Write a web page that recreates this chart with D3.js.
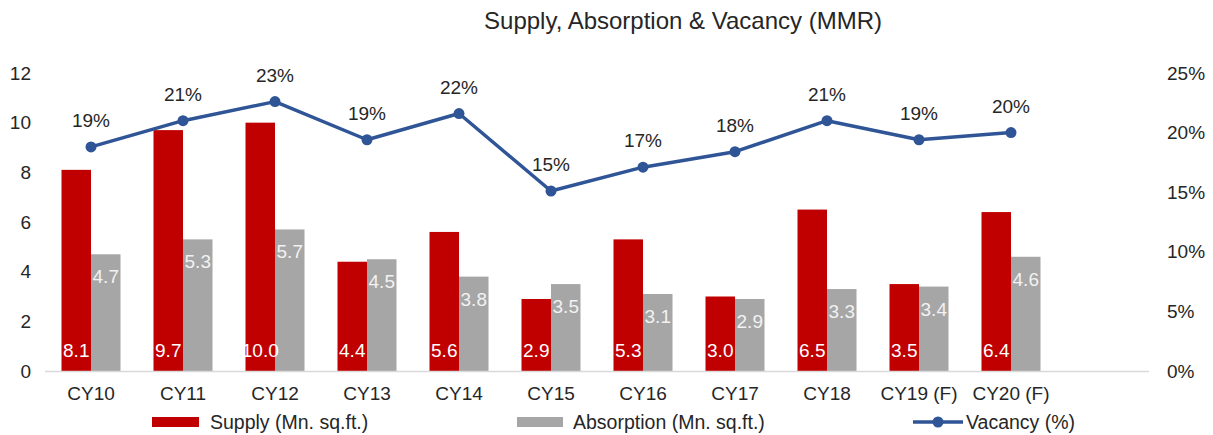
<!DOCTYPE html>
<html>
<head>
<meta charset="utf-8">
<script src="https://cdn.jsdelivr.net/npm/d3@7"></script>
<style>
  body { margin: 0; background: #fff; }
  svg { display: block; font-family: "Liberation Sans", Arial, sans-serif; }
</style>
</head>
<body>
<svg id="chart"></svg>
<script>
// chart data
const years = ["CY10", "CY11", "CY12", "CY13", "CY14", "CY15", "CY16", "CY17", "CY18", "CY19 (F)", "CY20 (F)", ""];
const supply = [8.1, 9.7, 10.0, 4.4, 5.6, 2.9, 5.3, 3.0, 6.5, 3.5, 6.4];
const absorption = [4.7, 5.3, 5.7, 4.5, 3.8, 3.5, 3.1, 2.9, 3.3, 3.4, 4.6];
const vacancy = [0.188, 0.210, 0.226, 0.194, 0.216, 0.151, 0.171, 0.184, 0.210, 0.194, 0.200];
const leftTicks = [0, 2, 4, 6, 8, 10, 12];
const rightTicks = [0, 0.05, 0.10, 0.15, 0.20, 0.25];

const width = 1213;
const height = 435;
const margin = { top: 73, right: 64, bottom: 64, left: 45 };
const fs = 19;

const svg = d3.select("#chart").attr("width", width).attr("height", height);

const x = d3.scaleBand()
    .domain(years)
    .range([margin.left, width - margin.right])
    .paddingInner(0)
    .paddingOuter(0);

const y = d3.scaleLinear().domain([0, 12]).range([height - margin.bottom, margin.top]);
const y2 = d3.scaleLinear().domain([0, 0.25]).range([height - margin.bottom, margin.top]);

const barW = 29.5;
const cx = d => x(d) + x.bandwidth() / 2;

const red = "#c00000", grey = "#a6a6a6", blue = "#2f5597";

// title
svg.append("text")
    .attr("x", 683).attr("y", 29)
    .attr("text-anchor", "middle")
    .attr("font-size", 24).attr("fill", "#262626")
    .text("Supply, Absorption & Vacancy (MMR)");

// supply bars
svg.append("g").selectAll("rect")
    .data(supply)
    .join("rect")
    .attr("x", (d, i) => cx(years[i]) - barW)
    .attr("y", d => y(d))
    .attr("width", barW)
    .attr("height", d => y(0) - y(d))
    .attr("fill", red);

// absorption bars
svg.append("g").selectAll("rect")
    .data(absorption)
    .join("rect")
    .attr("x", (d, i) => cx(years[i]))
    .attr("y", d => y(d))
    .attr("width", barW)
    .attr("height", d => y(0) - y(d))
    .attr("fill", grey);

// x axis line
svg.append("line")
    .attr("x1", margin.left).attr("x2", width - margin.right)
    .attr("y1", y(0) + 0.5).attr("y2", y(0) + 0.5)
    .attr("stroke", "#d9d9d9").attr("stroke-width", 1.5);

// bar labels
svg.append("g").selectAll("text")
    .data(supply)
    .join("text")
    .attr("x", (d, i) => cx(years[i]) - barW / 2)
    .attr("y", y(0) - 14)
    .attr("text-anchor", "middle")
    .attr("font-size", fs).attr("fill", "#ffffff")
    .text(d => d.toFixed(1));

svg.append("g").selectAll("text")
    .data(absorption)
    .join("text")
    .attr("x", (d, i) => cx(years[i]) + barW / 2)
    .attr("y", d => y(d) + 29)
    .attr("text-anchor", "middle")
    .attr("font-size", fs).attr("fill", "#f2f2f2")
    .text(d => d.toFixed(1));

// vacancy line
const line = d3.line()
    .x((d, i) => cx(years[i]))
    .y(d => y2(d));

svg.append("path")
    .datum(vacancy)
    .attr("d", line)
    .attr("fill", "none")
    .attr("stroke", blue)
    .attr("stroke-width", 3.5)
    .attr("stroke-linejoin", "round");

svg.append("g").selectAll("circle")
    .data(vacancy)
    .join("circle")
    .attr("cx", (d, i) => cx(years[i]))
    .attr("cy", d => y2(d))
    .attr("r", 5.5)
    .attr("fill", blue);

svg.append("g").selectAll("text")
    .data(vacancy)
    .join("text")
    .attr("x", (d, i) => cx(years[i]))
    .attr("y", d => y2(d) - 20)
    .attr("text-anchor", "middle")
    .attr("font-size", fs).attr("fill", "#262626")
    .text(d => d3.format(".0%")(d));

// left axis
const leftAxis = svg.append("g")
    .attr("transform", `translate(${margin.left - 14},0)`)
    .call(d3.axisLeft(y).tickValues(leftTicks).tickSize(0).tickPadding(0));
leftAxis.select(".domain").remove();

// right axis
const rightAxis = svg.append("g")
    .attr("transform", `translate(1167,0)`)
    .call(d3.axisRight(y2).tickValues(rightTicks).tickSize(0).tickPadding(0).tickFormat(d3.format(".0%")));
rightAxis.select(".domain").remove();

// category axis
const bottomAxis = svg.append("g")
    .attr("transform", `translate(0,${y(0) + 12})`)
    .call(d3.axisBottom(x).tickSize(0).tickPadding(4));
bottomAxis.select(".domain").remove();

[leftAxis, rightAxis, bottomAxis].forEach(a => {
    a.selectAll("text")
        .attr("font-size", fs)
        .attr("font-family", "Liberation Sans, Arial, sans-serif")
        .attr("fill", "#262626");
});
rightAxis.selectAll("text").attr("text-anchor", "start");

// legend
const legend = svg.append("g").attr("font-size", 19.5).attr("fill", "#262626");
const ly = 422;

legend.append("rect").attr("x", 152).attr("y", ly - 5).attr("width", 47).attr("height", 10).attr("fill", red);
legend.append("text").attr("x", 210).attr("y", ly + 7).text("Supply (Mn. sq.ft.)");

legend.append("rect").attr("x", 517).attr("y", ly - 5).attr("width", 46).attr("height", 10).attr("fill", grey);
legend.append("text").attr("x", 573).attr("y", ly + 7).text("Absorption (Mn. sq.ft.)");

legend.append("line").attr("x1", 913).attr("x2", 963).attr("y1", ly).attr("y2", ly)
    .attr("stroke", blue).attr("stroke-width", 3.5);
legend.append("circle").attr("cx", 938).attr("cy", ly).attr("r", 5.5).attr("fill", blue);
legend.append("text").attr("x", 966).attr("y", ly + 7).text("Vacancy (%)");
</script>
</body>
</html>
